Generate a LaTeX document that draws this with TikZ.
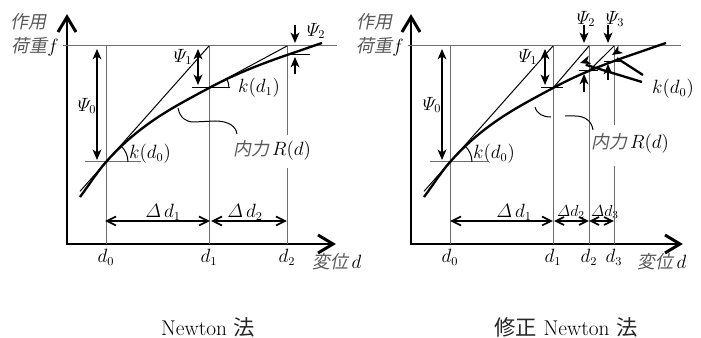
\documentclass[tikz,border=0pt]{standalone}
\usepackage{amsmath}
\usepackage{fontspec}
\newfontfamily\jpfont[Color=262626]{Noto Sans CJK JP}
\newfontfamily\jpslant[FakeSlant=0.2,Color=595959]{Noto Sans CJK JP}

\tikzset{every picture/.style={line width=0.75pt}}
\tikzset{
  gridline/.style={draw={rgb, 255:red, 110; green, 110; blue, 110 }, line width=0.75},
  lbl/.style={inner sep=0.75pt, font=\fontsize{13.5}{15}\selectfont},
  smalllbl/.style={inner sep=0pt, font=\fontsize{12}{14}\selectfont},
  caption/.style={inner sep=0.75pt, font=\fontsize{16}{19}\selectfont},
}

\begin{document}
\begin{tikzpicture}[x=0.75pt,y=0.75pt,yscale=-1,xscale=1]
\useasboundingbox (0,0) rectangle (701,338); %set diagram left start at 0, and has height of 338

%%%%% Newton
%Straight Lines [axes]
\draw [line width=2.2] (67,18) -- (67,244) -- (331,244) ;
\draw [shift={(67,17)}, rotate = 90] [line width=2.2] (15,-9) -- (0,0) -- (15,9) ;
\draw [shift={(333,244)}, rotate = 180] [line width=2.2] (15,-9) -- (0,0) -- (15,9) ;
%Straight Lines [load level and displacements]
\draw [gridline] (63,46) -- (337,46) ;
\draw [gridline] (106,46) -- (106,244) ;
\draw [gridline] (209,46) -- (209,244) ;
\draw [gridline] (287,46) -- (287,135) ;
\draw [gridline] (287,168) -- (287,244) ;
%Straight Lines [ticks]
\draw [gridline] (85,162) -- (141,162) ;
\draw    (192,88) -- (230,88) ;
\draw    (287,55) -- (310,55) ;
%Straight Lines [tangents]
\draw    (80,191.3) -- (209,46) ;
\draw    (209,88) -- (287,46) ;
%Shape: Arc
\draw    (128,162) arc [start angle=0, end angle=-48, radius=22] ;
\draw    (229,88) arc [start angle=0, end angle=-28, radius=20] ;
%Curve Lines [R(d)]
\draw [line width=1.75]  (80,197) .. controls (89,185) and (97,172.2) .. (106,162) .. controls (140,123.6) and (175,106.4) .. (209,88) .. controls (235,74) and (261,64) .. (287,55) .. controls (299,51) and (310,47) .. (322,43) ;
%Curve Lines [leader]
\draw    (178,108) .. controls (180,118) and (186,122) .. (194,122) -- (215,121) .. controls (228,121) and (236,126) .. (237,134) ;
%Straight Lines [psi 0]
\draw [line width=2]  (97,55) -- (97,154) ;
\draw [shift={(97,49)}, rotate = 90] [fill={rgb, 255:red, 0; green, 0; blue, 0 }  ][line width=0.08]  [draw opacity=0] (10.5,-4.5) -- (0,0) -- (10.5,4.5) -- (7.5,0) -- cycle    ;
\draw [shift={(97,160)}, rotate = 270] [fill={rgb, 255:red, 0; green, 0; blue, 0 }  ][line width=0.08]  [draw opacity=0] (10.5,-4.5) -- (0,0) -- (10.5,4.5) -- (7.5,0) -- cycle    ;
%Straight Lines [psi 1]
\draw [line width=2]  (198,55) -- (198,79) ;
\draw [shift={(198,49)}, rotate = 90] [fill={rgb, 255:red, 0; green, 0; blue, 0 }  ][line width=0.08]  [draw opacity=0] (10.5,-4.5) -- (0,0) -- (10.5,4.5) -- (7.5,0) -- cycle    ;
\draw [shift={(198,85)}, rotate = 270] [fill={rgb, 255:red, 0; green, 0; blue, 0 }  ][line width=0.08]  [draw opacity=0] (10.5,-4.5) -- (0,0) -- (10.5,4.5) -- (7.5,0) -- cycle    ;
%Straight Lines [psi 2]
\draw [line width=2]  (295,25) -- (295,37) ;
\draw [shift={(295,43)}, rotate = 270] [fill={rgb, 255:red, 0; green, 0; blue, 0 }  ][line width=0.08]  [draw opacity=0] (10.5,-4.5) -- (0,0) -- (10.5,4.5) -- (7.5,0) -- cycle    ;
\draw [line width=2]  (295,74) -- (295,63) ;
\draw [shift={(295,57)}, rotate = 90] [fill={rgb, 255:red, 0; green, 0; blue, 0 }  ][line width=0.08]  [draw opacity=0] (10.5,-4.5) -- (0,0) -- (10.5,4.5) -- (7.5,0) -- cycle    ;
%Straight Lines [delta d]
\draw [line width=1.5]  (108,221) -- (207,221) ;
\draw [shift={(107,221)}, rotate = 0] [line width=1.2] (9,-4.5) -- (0,0) -- (9,4.5) ;
\draw [shift={(208,221)}, rotate = 180] [line width=1.2] (9,-4.5) -- (0,0) -- (9,4.5) ;
\draw [line width=1.5]  (214,221) -- (284,221) ;
\draw [shift={(213,221)}, rotate = 0] [line width=1.2] (9,-4.5) -- (0,0) -- (9,4.5) ;
\draw [shift={(285,221)}, rotate = 180] [line width=1.2] (9,-4.5) -- (0,0) -- (9,4.5) ;

% Text Node
\draw (29,22) node (actL) [lbl] {\jpslant 作用};
% Text Node
\draw (35,47) node (loadL) [lbl] {{\jpslant 荷重}$f$};
% Text Node
\draw (87,106) node (psiZeroL) [lbl] {$\varPsi_0$};
% Text Node
\draw (183,57) node (psiOneL) [lbl] {$\varPsi_1$};
% Text Node
\draw (316,31) node (psiTwoL) [lbl] {$\varPsi_2$};
% Text Node
\draw (150,154) node (kZeroL) [lbl] {$k(d_0)$};
% Text Node
\draw (259,88) node (kOneL) [lbl] {$k(d_1)$};
% Text Node
\draw (272,150) node (forceL) [lbl] {{\jpslant 内力}\,$R(d)$};
% Text Node
\draw (163,212) node (dOneL) [lbl] {$\varDelta\,d_1$};
% Text Node
\draw (245,212) node (dTwoL) [lbl] {$\varDelta\,d_2$};
% Text Node
\draw (106,257) node (xZeroL) [lbl] {$d_0$};
% Text Node
\draw (209,257) node (xOneL) [lbl] {$d_1$};
% Text Node
\draw (287,257) node (xTwoL) [lbl] {$d_2$};
% Text Node
\draw (337,262) node (dispL) [lbl] {{\jpslant 変位}\,$d$};
% Text Node
\draw (208,327) node (capL) [caption] {Newton {\jpfont 法}};

%%%%% modified Newton
%Straight Lines [axes]
\draw [line width=2.2] (411,18) -- (411,244) -- (678,244) ;
\draw [shift={(411,17)}, rotate = 90] [line width=2.2] (15,-9) -- (0,0) -- (15,9) ;
\draw [shift={(680,244)}, rotate = 180] [line width=2.2] (15,-9) -- (0,0) -- (15,9) ;
%Straight Lines [load level and displacements]
\draw [gridline] (408,46) -- (681,46) ;
\draw [gridline] (450,46) -- (450,244) ;
\draw [gridline] (553,46) -- (553,244) ;
\draw [gridline] (589,46) -- (589,244) ;
\draw [gridline] (614,46) -- (614,125) ;
\draw [gridline] (614,166) -- (614,244) ;
%Straight Lines [ticks]
\draw [gridline] (430,162) -- (488,162) ;
\draw    (541,88) -- (563,88) ;
\draw    (579,70.9) -- (598,70.9) ;
\draw    (604,61.1) -- (620,61.1) ;
%Straight Lines [tangents, all k(d0)]
\draw    (424,191.3) -- (553,46) ;
\draw    (553,88) -- (589,46) ;
\draw    (589,70.9) -- (614,46) ;
%Shape: Arc
\draw    (472,162) arc [start angle=0, end angle=-48, radius=22] ;
%Curve Lines [R(d)]
\draw [line width=1.75]  (424,197) .. controls (433,185) and (441,172.2) .. (450,162) .. controls (484,123.6) and (519,106.4) .. (553,88) .. controls (579,74) and (605,64) .. (631,55) .. controls (643,51) and (654,47) .. (666,43) ;
%Curve Lines [leader]
\draw    (535,107) .. controls (537,114) and (543,117) .. (551,117) ;
\draw    (565,116) -- (575,116) .. controls (586,116) and (592,122) .. (593,130) ;
%Straight Lines [psi 0]
\draw [line width=2]  (442,55) -- (442,154) ;
\draw [shift={(442,49)}, rotate = 90] [fill={rgb, 255:red, 0; green, 0; blue, 0 }  ][line width=0.08]  [draw opacity=0] (10.5,-4.5) -- (0,0) -- (10.5,4.5) -- (7.5,0) -- cycle    ;
\draw [shift={(442,160)}, rotate = 270] [fill={rgb, 255:red, 0; green, 0; blue, 0 }  ][line width=0.08]  [draw opacity=0] (10.5,-4.5) -- (0,0) -- (10.5,4.5) -- (7.5,0) -- cycle    ;
%Straight Lines [psi 1]
\draw [line width=2]  (545,55) -- (545,79) ;
\draw [shift={(545,49)}, rotate = 90] [fill={rgb, 255:red, 0; green, 0; blue, 0 }  ][line width=0.08]  [draw opacity=0] (10.5,-4.5) -- (0,0) -- (10.5,4.5) -- (7.5,0) -- cycle    ;
\draw [shift={(545,85)}, rotate = 270] [fill={rgb, 255:red, 0; green, 0; blue, 0 }  ][line width=0.08]  [draw opacity=0] (10.5,-4.5) -- (0,0) -- (10.5,4.5) -- (7.5,0) -- cycle    ;
%Straight Lines [psi 2]
\draw [line width=2]  (584,25) -- (584,37) ;
\draw [shift={(584,43)}, rotate = 270] [fill={rgb, 255:red, 0; green, 0; blue, 0 }  ][line width=0.08]  [draw opacity=0] (10.5,-4.5) -- (0,0) -- (10.5,4.5) -- (7.5,0) -- cycle    ;
\draw [line width=2]  (584,92) -- (584,80) ;
\draw [shift={(584,74)}, rotate = 90] [fill={rgb, 255:red, 0; green, 0; blue, 0 }  ][line width=0.08]  [draw opacity=0] (10.5,-4.5) -- (0,0) -- (10.5,4.5) -- (7.5,0) -- cycle    ;
%Straight Lines [psi 3]
\draw [line width=2]  (608,25) -- (608,37) ;
\draw [shift={(608,43)}, rotate = 270] [fill={rgb, 255:red, 0; green, 0; blue, 0 }  ][line width=0.08]  [draw opacity=0] (10.5,-4.5) -- (0,0) -- (10.5,4.5) -- (7.5,0) -- cycle    ;
\draw [line width=2]  (608,80) -- (608,70) ;
\draw [shift={(608,64)}, rotate = 90] [fill={rgb, 255:red, 0; green, 0; blue, 0 }  ][line width=0.08]  [draw opacity=0] (10.5,-4.5) -- (0,0) -- (10.5,4.5) -- (7.5,0) -- cycle    ;
%Straight Lines [k(d0) pointers]
\coordinate (kTailA) at (642,82);
\coordinate (kTailB) at (643,75);
\draw [line width=1.75]  (kTailA) -- (585.7,64.8) ;
\draw [shift={(580,63)}, rotate = -17] [fill={rgb, 255:red, 0; green, 0; blue, 0 }  ][line width=0.08]  [draw opacity=0] (10.5,-4.5) -- (0,0) -- (10.5,4.5) -- (7.5,0) -- cycle    ;
\draw [line width=1.75]  (kTailB) -- (617,58.3) ;
\draw [shift={(612,55)}, rotate = -32.8] [fill={rgb, 255:red, 0; green, 0; blue, 0 }  ][line width=0.08]  [draw opacity=0] (10.5,-4.5) -- (0,0) -- (10.5,4.5) -- (7.5,0) -- cycle    ;
%Straight Lines [delta d]
\draw [line width=1.5]  (453,221) -- (550,221) ;
\draw [shift={(452,221)}, rotate = 0] [line width=1.2] (9,-4.5) -- (0,0) -- (9,4.5) ;
\draw [shift={(551,221)}, rotate = 180] [line width=1.2] (9,-4.5) -- (0,0) -- (9,4.5) ;
\draw [line width=1.5]  (557,221) -- (586,221) ;
\draw [shift={(556,221)}, rotate = 0] [line width=1.2] (8,-4) -- (0,0) -- (8,4) ;
\draw [shift={(587,221)}, rotate = 180] [line width=1.2] (8,-4) -- (0,0) -- (8,4) ;
\draw [line width=1.5]  (592,221) -- (611,221) ;
\draw [shift={(591,221)}, rotate = 0] [line width=1.2] (8,-4) -- (0,0) -- (8,4) ;
\draw [shift={(612,221)}, rotate = 180] [line width=1.2] (8,-4) -- (0,0) -- (8,4) ;

% Text Node
\draw (374,22) node (actR) [lbl] {\jpslant 作用};
% Text Node
\draw (380,47) node (loadR) [lbl] {{\jpslant 荷重}$f$};
% Text Node
\draw (432,105) node (psiZeroR) [lbl] {$\varPsi_0$};
% Text Node
\draw (528,57) node (psiOneR) [lbl] {$\varPsi_1$};
% Text Node
\draw (586,19) node (psiTwoR) [lbl] {$\varPsi_2$};
% Text Node
\draw (615,19) node (psiThreeR) [lbl] {$\varPsi_3$};
% Text Node
\draw (494,154) node (kZeroR) [lbl] {$k(d_0)$};
% Text Node
\draw (673,89) node (kPtrR) [lbl] {$k(d_0)$};
% Text Node
\draw (630,143) node (forceR) [lbl] {{\jpslant 内力}\,$R(d)$};
% Text Node
\draw (514,212) node (dOneR) [lbl] {$\varDelta\,d_1$};
% Text Node
\draw (571,212) node (dTwoR) [smalllbl] {$\varDelta d_2$};
% Text Node
\draw (605,212) node (dThreeR) [smalllbl] {$\varDelta d_3$};
% Text Node
\draw (450,257) node (xZeroR) [lbl] {$d_0$};
% Text Node
\draw (553,257) node (xOneR) [lbl] {$d_1$};
% Text Node
\draw (589,257) node (xTwoR) [lbl] {$d_2$};
% Text Node
\draw (614,257) node (xThreeR) [lbl] {$d_3$};
% Text Node
\draw (662,262) node (dispR) [lbl] {{\jpslant 変位}\,$d$};
% Text Node
\draw (566,327) node (capR) [caption] {{\jpfont 修正} Newton {\jpfont 法}};

\end{tikzpicture}
\end{document}
